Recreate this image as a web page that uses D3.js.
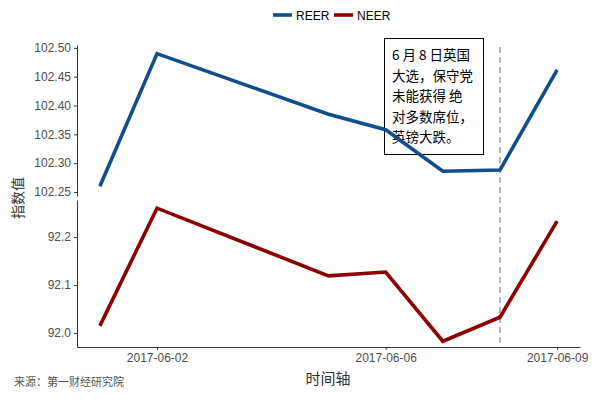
<!DOCTYPE html>
<html>
<head>
<meta charset="utf-8">
<script src="https://cdn.jsdelivr.net/npm/d3@7"></script>
<style>
  body { margin: 0; background: #fff; }
  svg { display: block; }
</style>
</head>
<body>
<svg></svg>
<script>
const dates = ['2017-06-01', '2017-06-02', '2017-06-05', '2017-06-06', '2017-06-07', '2017-06-08', '2017-06-09'];
const reer = [102.260, 102.490, 102.385, 102.358, 102.286, 102.288, 102.462];
const neer = [92.015, 92.260, 92.119, 92.127, 91.983, 92.033, 92.233];
const reerTicks = [102.25, 102.30, 102.35, 102.40, 102.45, 102.50];
const neerTicks = [92.0, 92.1, 92.2];
const xTicks = ['2017-06-02', '2017-06-06', '2017-06-09'];
const eventDate = '2017-06-08';
const noteLines = ['6 月 8 日英国', '大选，保守党', '未能获得 绝', '对多数席位，', '英镑大跌。'];

const W = 597, H = 399;
const parse = d3.timeParse('%Y-%m-%d');
const fmt = d3.timeFormat('%Y-%m-%d');
const day = 864e5;

const svg = d3.select('svg').attr('width', W).attr('height', H)
  .style('font-family', 'Arial, "Liberation Sans", "Noto Sans CJK SC", sans-serif');

const t0 = parse(dates[0]), t1 = parse(dates[dates.length - 1]);
const x = d3.scaleTime()
  .domain([new Date(+t0 - 0.4 * day), new Date(+t1 + 0.4 * day)])
  .range([77, 580]);

const yTop = d3.scaleLinear().domain([102.243, 102.505]).range([196, 45]);
const yBot = d3.scaleLinear().domain([91.971, 92.277]).range([347, 200]);

// left axes
const axisColor = '#333';
const tickText = '#4d4d4d';

function leftAxis(scale, ticks, f) {
  const g = svg.append('g').attr('transform', 'translate(77,0)')
    .call(d3.axisLeft(scale).tickValues(ticks).tickFormat(d3.format(f)).tickSize(3).tickSizeOuter(0));
  g.select('.domain').attr('stroke', axisColor);
  g.selectAll('.tick line').attr('stroke', axisColor);
  g.selectAll('.tick text').attr('fill', tickText).style('font-size', '12px')
    .style('font-family', 'Arial, "Liberation Sans", sans-serif').attr('x', -6);
  return g;
}
leftAxis(yTop, reerTicks, '.2f');
leftAxis(yBot, neerTicks, '.1f');

// bottom axis
const gx = svg.append('g').attr('transform', 'translate(0,347)')
  .call(d3.axisBottom(x).tickValues(xTicks.map(parse)).tickFormat(fmt).tickSize(3).tickSizeOuter(0));
gx.select('.domain').attr('stroke', axisColor);
gx.selectAll('.tick line').attr('stroke', axisColor);
gx.selectAll('.tick text').attr('fill', tickText).style('font-size', '12px')
  .style('font-family', 'Arial, "Liberation Sans", sans-serif').attr('y', 6);

// event line
svg.append('line')
  .attr('x1', x(parse(eventDate))).attr('x2', x(parse(eventDate)))
  .attr('y1', 47).attr('y2', 347)
  .attr('stroke', '#888').attr('stroke-width', 1.2).attr('stroke-dasharray', '6,4');

// annotation box
svg.append('rect')
  .attr('x', 384.5).attr('y', 38.5).attr('width', 99).attr('height', 116)
  .attr('fill', 'none').attr('stroke', '#000').attr('stroke-width', 1);

svg.append('g').selectAll('text').data(noteLines).join('text')
  .attr('x', 392).attr('y', (d, i) => 60 + i * 20.5)
  .style('font-family', '"Noto Sans CJK SC", sans-serif')
  .style('font-size', '13.5px').attr('fill', '#000')
  .text(d => d);

// series
const pts = dates.map(parse);
const lineTop = d3.line().x((d, i) => x(pts[i])).y(d => yTop(d));
const lineBot = d3.line().x((d, i) => x(pts[i])).y(d => yBot(d));

svg.append('path').datum(reer).attr('d', lineTop)
  .attr('fill', 'none').attr('stroke', '#104E8B').attr('stroke-width', 3.6)
  .attr('stroke-linejoin', 'miter');
svg.append('path').datum(neer).attr('d', lineBot)
  .attr('fill', 'none').attr('stroke', '#8B0000').attr('stroke-width', 3.6)
  .attr('stroke-linejoin', 'miter');

// legend
const legend = [{ name: 'REER', color: '#104E8B', x: 273 }, { name: 'NEER', color: '#8B0000', x: 334 }];
const lg = svg.append('g').selectAll('g').data(legend).join('g')
  .attr('transform', d => `translate(${d.x},15)`);
lg.append('line').attr('x1', 0).attr('x2', 19).attr('y1', 0).attr('y2', 0)
  .attr('stroke', d => d.color).attr('stroke-width', 3.6);
lg.append('text').attr('x', 23).attr('y', 4.5)
  .style('font-size', '12px').attr('fill', '#000').text(d => d.name);

// axis titles
svg.append('text')
  .attr('transform', 'translate(23,198) rotate(-90)')
  .attr('text-anchor', 'middle')
  .style('font-family', '"Noto Sans CJK SC", sans-serif')
  .style('font-size', '14px').attr('fill', '#333').text('指数值');

svg.append('text')
  .attr('x', 328).attr('y', 384).attr('text-anchor', 'middle')
  .style('font-family', '"Noto Sans CJK SC", sans-serif')
  .style('font-size', '15px').attr('fill', '#333').text('时间轴');

svg.append('text')
  .attr('x', 14).attr('y', 386)
  .style('font-family', '"Noto Sans CJK SC", sans-serif')
  .style('font-size', '11px').attr('fill', '#555').text('来源：第一财经研究院');
</script>
</body>
</html>
